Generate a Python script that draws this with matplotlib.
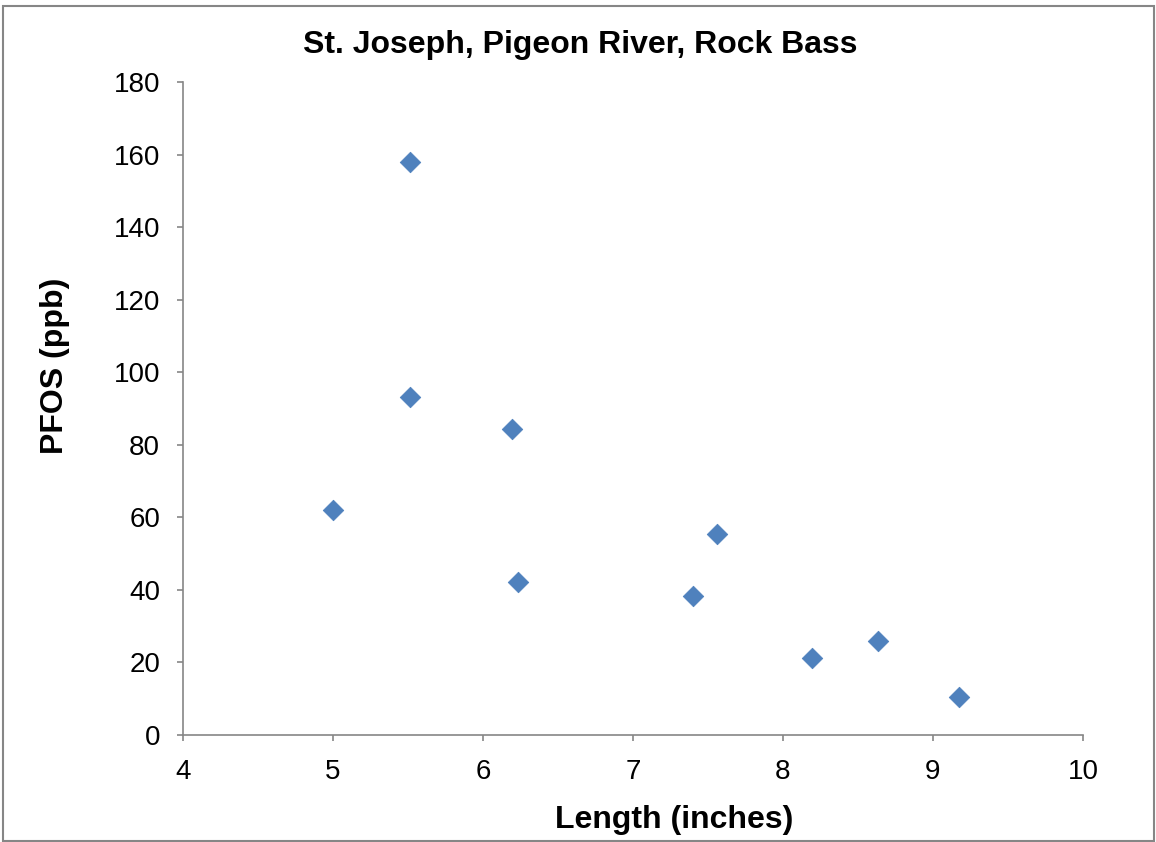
import matplotlib
matplotlib.use("Agg")
import matplotlib.pyplot as plt
from matplotlib.patches import Rectangle

plt.rcParams['font.family'] = ['Liberation Sans', 'DejaVu Sans']

length_in = [5.00, 5.51, 5.51, 6.19, 6.23, 7.56, 7.40, 8.19, 8.63, 9.17]
pfos_ppb = [62.0, 158.0, 93.2, 84.3, 42.2, 55.4, 38.2, 21.2, 25.9, 10.6]
x_ticks = [4, 5, 6, 7, 8, 9, 10]
y_ticks = [0, 20, 40, 60, 80, 100, 120, 140, 160, 180]

W, H = 1156, 842
fig = plt.figure(figsize=(W/100, H/100), dpi=100)
ax = fig.add_axes([183/W, 1-735/H, 900/W, 653/H])

ax.scatter(length_in, pfos_ppb, marker='D', s=110, color='#4F81BD',
           edgecolors='#4A7EBB', linewidths=0.5, zorder=3, clip_on=False)

ax.set_xlim(4, 10)
ax.set_ylim(0, 180)
ax.set_xticks(x_ticks)
ax.set_yticks(y_ticks)
ax.tick_params(direction='out', length=4.5, width=1.2, color='#868686',
               labelsize=20)
ax.tick_params(axis='y', pad=12)
ax.tick_params(axis='x', pad=13)
for s in ['top', 'right']:
    ax.spines[s].set_visible(False)
for s in ['left', 'bottom']:
    ax.spines[s].set_color('#868686')
    ax.spines[s].set_linewidth(1.2)

fig.text(580/W, 1-45/H, 'St. Joseph, Pigeon River, Rock Bass', fontsize=23,
         fontweight='bold', ha='center', va='center')
fig.text(674/W, 1-820/H, 'Length (inches)', fontsize=23, fontweight='bold',
         ha='center', va='center')
fig.text(55/W, 1-366/H, 'PFOS (ppb)', fontsize=23, fontweight='bold',
         ha='center', va='center', rotation=90)

fig.patches.append(Rectangle((3/W, 1/H), 1151/W, 835/H,
                             transform=fig.transFigure, fill=False,
                             edgecolor='#868686', linewidth=1.5))

fig.savefig('out.png', dpi=100)
